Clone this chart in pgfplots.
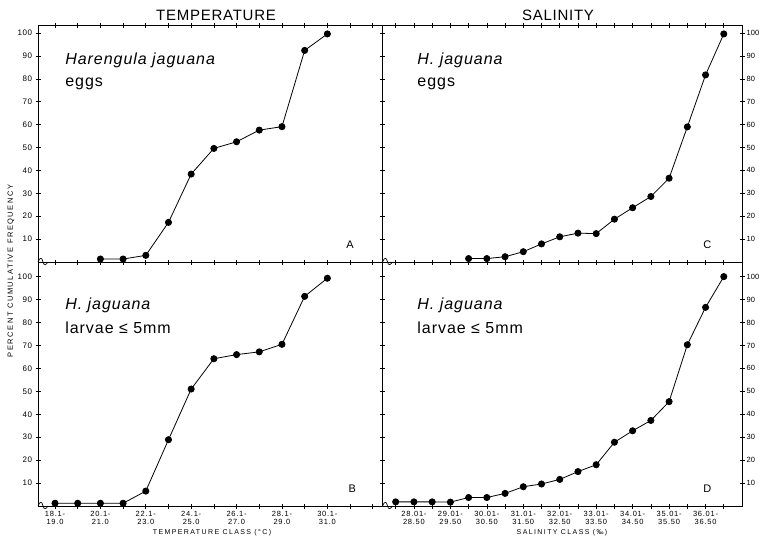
\documentclass[border=0pt]{standalone}
\usepackage{pgfplots}
\pgfplotsset{compat=1.18}
\usepackage{fontspec}
\setmainfont{Liberation Sans}

\tikzset{
 species/.style={anchor=west, font=\fontsize{16}{18}\selectfont\addfontfeature{LetterSpace=6}},
 letter/.style={font=\fontsize{11}{12}\selectfont},
 ser/.style={black, line width=0.8pt, mark=*, mark size=3.1pt, mark options={fill=black, solid}},
}
\pgfplotsset{
 panel/.style={scale only axis, axis line style={line width=0.9pt},
   tick align=center, major tick length=5pt,
   every tick/.style={black, line width=0.6pt},
   ymin=0, ytick={10,20,...,100},
   yticklabel style={font=\fontsize{8}{9}\selectfont\addfontfeature{LetterSpace=6}},
   /pgf/number format/assume math mode=true,
   clip=false},
 leftpanel/.style={panel, width=344.5pt, xmin=-0.749, xmax=14.43, xtick={0,...,14}},
 rightpanel/.style={panel, width=359.5pt, xmin=-0.724, xmax=19.0, xtick={0,...,18}, yticklabel pos=right,
   yticklabel style={font=\fontsize{7.5}{8}\selectfont, inner sep=1pt, xshift=1pt}},
 toppanel/.style={height=237pt, ymax=103.5, xticklabels={}},
 botpanel/.style={height=243.6pt, ymax=106.2, xticklabel style={align=center, font=\fontsize{7.5}{7.8}\selectfont\addfontfeature{LetterSpace=10}, yshift=1pt}},
}

\begin{document}
\begin{tikzpicture}[x=1pt,y=1pt]
\path[use as bounding box] (0,0) rectangle (759,-538);

% A
\begin{axis}[leftpanel, toppanel, at={(38pt,-262pt)}, anchor=south west]
\addplot[ser] coordinates {(2,1.3) (3,1.3) (4,2.9) (5,17.3) (6,38.4) (7,49.6) (8,52.5) (9,57.6) (10,59.1) (11,92.4) (12,99.6)};
\node[species] at (axis cs:0.3,88) {\itshape Harengula jaguana};
\node[species] at (axis cs:0.3,77.7) {eggs};
\node[letter] at (axis cs:13,7.4) {A};
\end{axis}

% B
\begin{axis}[leftpanel, botpanel, at={(38pt,-506pt)}, anchor=south west,
  xticklabels={{18.1-\\19.0},{},{20.1-\\21.0},{},{22.1-\\23.0},{},{24.1-\\25.0},{},{26.1-\\27.0},{},{28.1-\\29.0},{},{30.1-\\31.0},{},{}}]
\addplot[ser] coordinates {(0,1.2) (1,1.2) (2,1.2) (3,1.2) (4,6.5) (5,28.9) (6,51.0) (7,64.2) (8,66.0) (9,67.2) (10,70.5) (11,91.4) (12,99.3)};
\node[species] at (axis cs:0.3,87.5) {\itshape H. jaguana};
\node[species] at (axis cs:0.3,77.6) {larvae ≤ 5mm};
\node[letter] at (axis cs:13.1,7.7) {B};
\end{axis}

% C
\begin{axis}[rightpanel, toppanel, at={(382.5pt,-262pt)}, anchor=south west]
\addplot[ser] coordinates {(4,1.5) (5,1.5) (6,2.3) (7,4.5) (8,7.9) (9,11.0) (10,12.6) (11,12.4) (12,18.7) (13,23.7) (14,28.6) (15,36.6) (16,59.0) (17,81.7) (18,99.6)};
\node[species] at (axis cs:1.0,88) {\itshape H. jaguana};
\node[species] at (axis cs:1.0,77.7) {eggs};
\node[letter] at (axis cs:17.1,7.5) {C};
\end{axis}

% D
\begin{axis}[rightpanel, botpanel, at={(382.5pt,-506pt)}, anchor=south west,
  xticklabels={{},{28.01-\\28.50},{},{29.01-\\29.50},{},{30.01-\\30.50},{},{31.01-\\31.50},{},{32.01-\\32.50},{},{33.01-\\33.50},{},{34.01-\\34.50},{},{35.01-\\35.50},{},{36.01-\\36.50},{}}]
\addplot[ser] coordinates {(0,1.8) (1,1.8) (2,1.8) (3,1.7) (4,3.7) (5,3.7) (6,5.5) (7,8.4) (8,9.6) (9,11.6) (10,15.0) (11,18.0) (12,27.8) (13,32.8) (14,37.3) (15,45.5) (16,70.3) (17,86.6) (18,100)};
\node[species] at (axis cs:1.0,87.5) {\itshape H. jaguana};
\node[species] at (axis cs:1.0,77.6) {larvae ≤ 5mm};
\node[letter] at (axis cs:17.1,7.5) {D};
\end{axis}

% axis breaks
\foreach \xx/\yy in {38/262, 38/506, 382.5/262, 382.5/506} {
  \draw[line width=0.7pt] (\xx,-\yy) .. controls (\xx+2,-\yy+5) and (\xx+4,-\yy+5) .. (\xx+5,-\yy)
     .. controls (\xx+6,-\yy-4) and (\xx+8,-\yy-3) .. (\xx+10,-\yy);
}

% titles and labels
\node at (216,-15) {\fontsize{15}{16}\selectfont\addfontfeature{LetterSpace=5}TEMPERATURE};
\node at (558,-15) {\fontsize{15}{16}\selectfont\addfontfeature{LetterSpace=5}SALINITY};
\node[rotate=90] at (11,-271) {\fontsize{7.5}{8}\selectfont\addfontfeature{LetterSpace=20}PERCENT CUMULATIVE FREQUENCY};
\node at (212,-532.5) {\fontsize{7}{8}\selectfont\addfontfeature{LetterSpace=20}TEMPERATURE CLASS (°C)};
\node at (562,-532.5) {\fontsize{7}{8}\selectfont\addfontfeature{LetterSpace=20}SALINITY CLASS (‰)};
\end{tikzpicture}
\end{document}
